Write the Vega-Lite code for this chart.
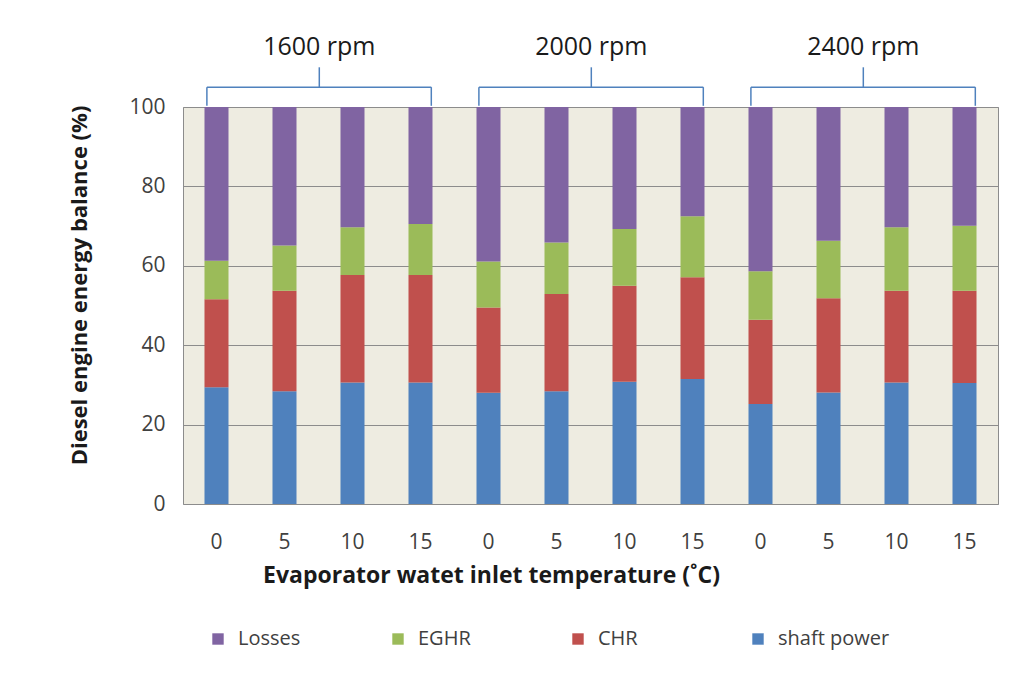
{
  "$schema": "https://vega.github.io/schema/vega-lite/v6.json",
  "width": 815,
  "height": 397,
  "autosize": {"type": "none"},
  "padding": {"left": 183, "top": 107, "right": 37, "bottom": 184},
  "background": "white",
  "config": {
    "font": "Open Sans",
    "view": {"stroke": "#8c8c8c", "strokeWidth": 1, "fill": "#EEECE1"},
    "axis": {"labelFont": "Open Sans", "titleFont": "Open Sans"}
  },
  "datasets": {
    "bars": [
      {"key": "1600-0", "rpm": "1600 rpm", "component": "shaft power", "value": 29.4, "o": 1},
      {"key": "1600-0", "rpm": "1600 rpm", "component": "CHR", "value": 22.2, "o": 2},
      {"key": "1600-0", "rpm": "1600 rpm", "component": "EGHR", "value": 9.7, "o": 3},
      {"key": "1600-0", "rpm": "1600 rpm", "component": "Losses", "value": 38.7, "o": 4},
      {"key": "1600-5", "rpm": "1600 rpm", "component": "shaft power", "value": 28.4, "o": 1},
      {"key": "1600-5", "rpm": "1600 rpm", "component": "CHR", "value": 25.3, "o": 2},
      {"key": "1600-5", "rpm": "1600 rpm", "component": "EGHR", "value": 11.4, "o": 3},
      {"key": "1600-5", "rpm": "1600 rpm", "component": "Losses", "value": 34.9, "o": 4},
      {"key": "1600-10", "rpm": "1600 rpm", "component": "shaft power", "value": 30.6, "o": 1},
      {"key": "1600-10", "rpm": "1600 rpm", "component": "CHR", "value": 27.1, "o": 2},
      {"key": "1600-10", "rpm": "1600 rpm", "component": "EGHR", "value": 12.0, "o": 3},
      {"key": "1600-10", "rpm": "1600 rpm", "component": "Losses", "value": 30.3, "o": 4},
      {"key": "1600-15", "rpm": "1600 rpm", "component": "shaft power", "value": 30.6, "o": 1},
      {"key": "1600-15", "rpm": "1600 rpm", "component": "CHR", "value": 27.1, "o": 2},
      {"key": "1600-15", "rpm": "1600 rpm", "component": "EGHR", "value": 12.8, "o": 3},
      {"key": "1600-15", "rpm": "1600 rpm", "component": "Losses", "value": 29.5, "o": 4},
      {"key": "2000-0", "rpm": "2000 rpm", "component": "shaft power", "value": 28.0, "o": 1},
      {"key": "2000-0", "rpm": "2000 rpm", "component": "CHR", "value": 21.5, "o": 2},
      {"key": "2000-0", "rpm": "2000 rpm", "component": "EGHR", "value": 11.6, "o": 3},
      {"key": "2000-0", "rpm": "2000 rpm", "component": "Losses", "value": 38.9, "o": 4},
      {"key": "2000-5", "rpm": "2000 rpm", "component": "shaft power", "value": 28.4, "o": 1},
      {"key": "2000-5", "rpm": "2000 rpm", "component": "CHR", "value": 24.5, "o": 2},
      {"key": "2000-5", "rpm": "2000 rpm", "component": "EGHR", "value": 13.0, "o": 3},
      {"key": "2000-5", "rpm": "2000 rpm", "component": "Losses", "value": 34.1, "o": 4},
      {"key": "2000-10", "rpm": "2000 rpm", "component": "shaft power", "value": 30.8, "o": 1},
      {"key": "2000-10", "rpm": "2000 rpm", "component": "CHR", "value": 24.2, "o": 2},
      {"key": "2000-10", "rpm": "2000 rpm", "component": "EGHR", "value": 14.3, "o": 3},
      {"key": "2000-10", "rpm": "2000 rpm", "component": "Losses", "value": 30.7, "o": 4},
      {"key": "2000-15", "rpm": "2000 rpm", "component": "shaft power", "value": 31.5, "o": 1},
      {"key": "2000-15", "rpm": "2000 rpm", "component": "CHR", "value": 25.6, "o": 2},
      {"key": "2000-15", "rpm": "2000 rpm", "component": "EGHR", "value": 15.4, "o": 3},
      {"key": "2000-15", "rpm": "2000 rpm", "component": "Losses", "value": 27.5, "o": 4},
      {"key": "2400-0", "rpm": "2400 rpm", "component": "shaft power", "value": 25.2, "o": 1},
      {"key": "2400-0", "rpm": "2400 rpm", "component": "CHR", "value": 21.2, "o": 2},
      {"key": "2400-0", "rpm": "2400 rpm", "component": "EGHR", "value": 12.2, "o": 3},
      {"key": "2400-0", "rpm": "2400 rpm", "component": "Losses", "value": 41.4, "o": 4},
      {"key": "2400-5", "rpm": "2400 rpm", "component": "shaft power", "value": 28.1, "o": 1},
      {"key": "2400-5", "rpm": "2400 rpm", "component": "CHR", "value": 23.7, "o": 2},
      {"key": "2400-5", "rpm": "2400 rpm", "component": "EGHR", "value": 14.5, "o": 3},
      {"key": "2400-5", "rpm": "2400 rpm", "component": "Losses", "value": 33.7, "o": 4},
      {"key": "2400-10", "rpm": "2400 rpm", "component": "shaft power", "value": 30.6, "o": 1},
      {"key": "2400-10", "rpm": "2400 rpm", "component": "CHR", "value": 23.1, "o": 2},
      {"key": "2400-10", "rpm": "2400 rpm", "component": "EGHR", "value": 16.0, "o": 3},
      {"key": "2400-10", "rpm": "2400 rpm", "component": "Losses", "value": 30.3, "o": 4},
      {"key": "2400-15", "rpm": "2400 rpm", "component": "shaft power", "value": 30.5, "o": 1},
      {"key": "2400-15", "rpm": "2400 rpm", "component": "CHR", "value": 23.2, "o": 2},
      {"key": "2400-15", "rpm": "2400 rpm", "component": "EGHR", "value": 16.4, "o": 3},
      {"key": "2400-15", "rpm": "2400 rpm", "component": "Losses", "value": 29.9, "o": 4}
    ],
    "brackets": [
      {"key": "1600-0", "key_end": "1600-15", "mid": "1600-5", "label": "1600 rpm", "base": 100.3, "line": 105, "tip": 110, "text": 115},
      {"key": "2000-0", "key_end": "2000-15", "mid": "2000-5", "label": "2000 rpm", "base": 100.3, "line": 105, "tip": 110, "text": 115},
      {"key": "2400-0", "key_end": "2400-15", "mid": "2400-5", "label": "2400 rpm", "base": 100.3, "line": 105, "tip": 110, "text": 115}
    ]
  },
  "layer": [
    {
      "data": {"name": "bars"},
      "mark": {"type": "bar"},
      "encoding": {
        "x": {
          "field": "key",
          "type": "nominal",
          "sort": null,
          "scale": {
            "domain": ["1600-0", "1600-5", "1600-10", "1600-15", "2000-0", "2000-5", "2000-10", "2000-15", "2400-0", "2400-5", "2400-10", "2400-15"],
            "paddingInner": 0.647,
            "paddingOuter": 0.316
          },
          "axis": {
            "labelExpr": "split(datum.value, '-')[1]",
            "labelAngle": 0,
            "labelFontSize": 21,
            "labelColor": "#404040",
            "labelPadding": 27,
            "ticks": false,
            "domain": false,
            "title": "Evaporator watet inlet temperature (˚C)",
            "titleFontSize": 23,
            "titleFontWeight": "bold",
            "titleColor": "#1a1a1a",
            "titlePadding": 12,
            "titleX": 308
          }
        },
        "y": {
          "field": "value",
          "type": "quantitative",
          "stack": "zero",
          "scale": {"domain": [0, 100], "nice": false},
          "axis": {
            "values": [0, 20, 40, 60, 80, 100],
            "labelFontSize": 21,
            "labelColor": "#404040",
            "labelPadding": 18,
            "ticks": false,
            "domain": false,
            "gridColor": "#8c8c8c",
            "gridWidth": 1,
            "title": "Diesel engine energy balance (%)",
            "titleFontSize": 22,
            "titleFontWeight": "bold",
            "titleColor": "#1a1a1a",
            "titlePadding": 37,
            "titleY": 178
          }
        },
        "color": {
          "field": "component",
          "type": "nominal",
          "scale": {
            "domain": ["Losses", "EGHR", "CHR", "shaft power"],
            "range": ["#8064A2", "#9BBB59", "#C0504D", "#4F81BD"]
          },
          "legend": {
            "orient": "none",
            "direction": "horizontal",
            "legendX": 25,
            "legendY": 522,
            "title": null,
            "symbolType": "square",
            "symbolSize": 130,
            "symbolStrokeWidth": 0,
            "labelFontSize": 20,
            "labelColor": "#404040",
            "labelFont": "Open Sans",
            "columns": 4,
            "gridAlign": "all",
            "columnPadding": 38,
            "labelOffset": 10
          }
        },
        "order": {"field": "o", "type": "quantitative"}
      }
    },
    {
      "data": {"name": "brackets"},
      "mark": {"type": "rule", "color": "#4F81BD", "strokeWidth": 1.5},
      "encoding": {
        "x": {"field": "key", "type": "nominal", "bandPosition": 0.1},
        "x2": {"field": "key_end", "bandPosition": 0.95},
        "y": {"field": "line", "type": "quantitative"}
      }
    },
    {
      "data": {"name": "brackets"},
      "mark": {"type": "rule", "color": "#4F81BD", "strokeWidth": 1.5},
      "encoding": {
        "x": {"field": "key", "type": "nominal", "bandPosition": 0.1},
        "y": {"field": "base", "type": "quantitative"},
        "y2": {"field": "line"}
      }
    },
    {
      "data": {"name": "brackets"},
      "mark": {"type": "rule", "color": "#4F81BD", "strokeWidth": 1.5},
      "encoding": {
        "x": {"field": "key_end", "type": "nominal", "bandPosition": 0.95},
        "y": {"field": "base", "type": "quantitative"},
        "y2": {"field": "line"}
      }
    },
    {
      "data": {"name": "brackets"},
      "mark": {"type": "rule", "color": "#4F81BD", "strokeWidth": 1.5},
      "encoding": {
        "x": {"field": "mid", "type": "nominal", "bandPosition": 1.95},
        "y": {"field": "line", "type": "quantitative"},
        "y2": {"field": "tip"}
      }
    },
    {
      "data": {"name": "brackets"},
      "mark": {"type": "text", "fontSize": 25, "color": "#1a1a1a", "font": "Open Sans", "baseline": "middle"},
      "encoding": {
        "x": {"field": "mid", "type": "nominal", "bandPosition": 1.95},
        "y": {"field": "text", "type": "quantitative"},
        "text": {"field": "label"}
      }
    }
  ]
}
